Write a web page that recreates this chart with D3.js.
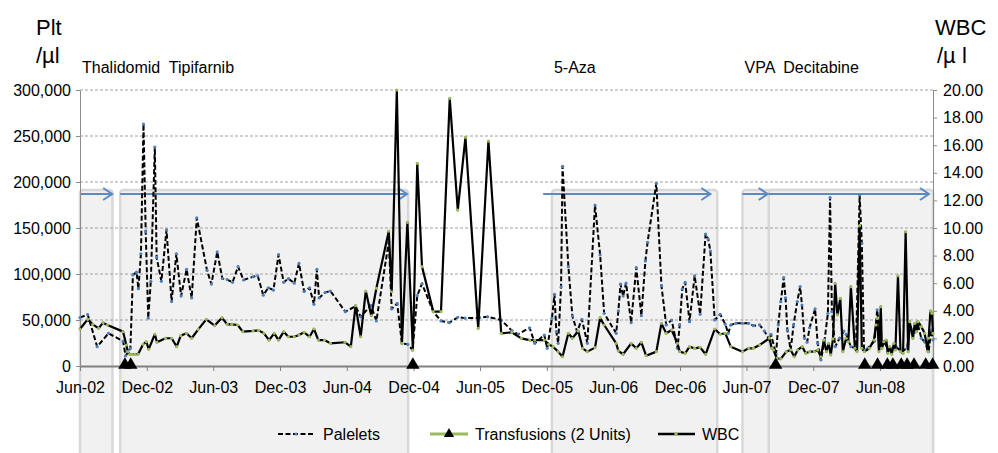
<!DOCTYPE html>
<html>
<head>
<meta charset="utf-8">
<script src="https://cdn.jsdelivr.net/npm/d3@7"></script>
<style>
  body { margin: 0; background: #fff; }
  svg { display: block; font-family: "Liberation Sans", Arial, Helvetica, sans-serif; }
</style>
</head>
<body>
<div id="chart"></div>
<script>
// Data
const platelets = [
  ["2002-06-01",52500],["2002-06-22",56000],["2002-07-18",21000],["2002-08-18",35500],
  ["2002-09-27",27000],["2002-10-04",11000],["2002-10-17",19000],["2002-10-24",99000],
  ["2002-11-03",102000],["2002-11-08",84000],["2002-11-15",122000],["2002-11-22",263000],
  ["2002-11-28",146000],["2002-12-05",52000],["2002-12-12",92000],["2002-12-23",238000],
  ["2002-12-28",118000],["2003-01-10",92000],["2003-01-24",148000],["2003-02-07",70000],
  ["2003-02-20",122000],["2003-03-05",76000],["2003-03-20",105000],["2003-04-03",74000],
  ["2003-04-17",161000],["2003-05-15",104000],["2003-05-27",89000],["2003-06-12",124000],
  ["2003-06-26",95000],["2003-07-09",94000],["2003-07-24",91000],["2003-08-08",108000],
  ["2003-08-23",93500],["2003-09-18",97000],["2003-10-01",98000],["2003-10-16",77000],
  ["2003-10-30",85000],["2003-11-13",82500],["2003-11-27",121000],["2003-12-11",91000],
  ["2003-12-24",95000],["2004-01-09",90000],["2004-01-22",111500],["2004-02-05",81000],
  ["2004-02-20",85000],["2004-03-03",67000],["2004-03-11",105000],["2004-03-17",74000],
  ["2004-04-03",80000],["2004-04-17",81500],["2004-05-28",59000],["2004-06-25",65000],
  ["2004-07-09",53500],["2004-08-06",66000],["2004-08-21",49000],["2004-09-24",135000],
  ["2004-10-02",62000],["2004-10-17",68000],["2004-10-30",24700],["2004-11-15",23600],
  ["2004-11-28",17400],["2004-12-11",76500],["2004-12-24",89500],["2005-01-24",59000],
  ["2005-02-14",49000],["2005-03-09",47000],["2005-04-01",53000],["2005-04-21",52000],
  ["2005-05-30",52500],["2005-06-22",53500],["2005-07-29",50000],["2005-08-27",38500],
  ["2005-09-13",34500],["2005-10-15",41500],["2005-10-29",24700],["2005-11-24",33700],
  ["2005-12-02",19200],["2005-12-15",51800],["2005-12-22",78000],["2005-12-27",37300],
  ["2006-01-01",24700],["2006-01-09",86000],["2006-01-13",217000],["2006-01-29",108000],
  ["2006-02-09",54300],["2006-02-22",37300],["2006-03-07",50800],["2006-03-22",24700],
  ["2006-04-12",175000],["2006-04-26",120700],["2006-05-07",57300],["2006-06-09",35500],
  ["2006-06-15",60000],["2006-06-21",89000],["2006-06-28",76000],["2006-07-06",90000],
  ["2006-07-20",47000],["2006-08-03",107000],["2006-08-17",54700],["2006-08-28",114000],
  ["2006-09-03",134500],["2006-09-27",198600],["2006-10-11",87300],["2006-10-24",44600],
  ["2006-11-08",50000],["2006-11-24",19200],["2006-11-30",44600],["2006-12-07",83700],
  ["2006-12-15",91000],["2006-12-27",48200],["2007-01-10",98100],["2007-01-25",56200],
  ["2007-02-09",143500],["2007-02-16",138000],["2007-02-22",125000],["2007-03-06",50000],
  ["2007-03-21",56200],["2007-04-04",45300],["2007-04-12",35500],["2007-04-19",44600],
  ["2007-05-03",46400],["2007-05-21",46400],["2007-06-07",46400],["2007-06-20",43800],
  ["2007-07-07",44600],["2007-07-20",38000],["2007-08-03",28300],["2007-08-07",34500],
  ["2007-08-21",12700],["2007-08-27",44600],["2007-09-03",69900],["2007-09-11",96000],
  ["2007-09-16",74200],["2007-09-21",39100],["2007-09-30",17400],["2007-10-08",44600],
  ["2007-10-18",69900],["2007-10-26",86200],["2007-10-31",66300],["2007-11-07",30100],
  ["2007-11-14",25800],["2007-11-21",41600],["2007-12-06",62000],["2007-12-13",24700],
  ["2007-12-22",6500],["2008-01-01",28300],["2008-01-10",57300],["2008-01-16",183000],
  ["2008-01-21",59000],["2008-01-30",21000],["2008-02-11",30100],["2008-02-23",38000],
  ["2008-02-29",34500],["2008-03-13",21000],["2008-03-27",19200],["2008-04-06",185900],
  ["2008-04-12",133400],["2008-04-18",17400],["2008-04-28",19200],["2008-05-17",27200],
  ["2008-05-24",60900],["2008-05-29",44600],["2008-06-04",19200],["2008-06-11",26400],
  ["2008-06-22",19200],["2008-07-03",19200],["2008-07-15",21000],["2008-07-29",15500],
  ["2008-08-14",19200],["2008-08-21",44600],["2008-08-28",39100],["2008-09-04",36600],
  ["2008-09-11",47500],["2008-09-22",30100],["2008-10-01",26400],["2008-10-12",15500],
  ["2008-10-19",39100],["2008-10-24",28300]
];

const wbc = [
  ["2002-06-01",2.68],["2002-06-22",3.38],["2002-07-06",3.02],["2002-07-22",2.73],
  ["2002-08-03",3.14],["2002-08-15",2.97],["2002-09-27",2.49],["2002-10-06",1.52],
  ["2002-10-10",1.04],["2002-10-15",0.85],["2002-10-21",0.85],["2002-10-29",0.85],
  ["2002-11-07",0.85],["2002-11-21",1.57],["2002-11-30",1.76],["2002-12-06",1.21],
  ["2002-12-23",2.30],["2002-12-29",1.72],["2003-01-21",2.01],["2003-02-07",2.01],
  ["2003-02-21",1.40],["2003-03-04",2.20],["2003-03-20",2.37],["2003-04-03",2.01],
  ["2003-04-21",2.65],["2003-05-13",3.38],["2003-06-05",2.93],["2003-06-25",3.50],
  ["2003-07-09",3.02],["2003-07-22",3.02],["2003-08-07",2.97],["2003-08-21",2.49],
  ["2003-09-18",2.54],["2003-10-03",2.58],["2003-10-18",2.37],["2003-11-01",1.88],
  ["2003-11-15",2.37],["2003-11-27",1.88],["2003-12-11",2.49],["2003-12-24",2.12],
  ["2004-01-09",2.12],["2004-01-22",2.25],["2004-02-05",2.44],["2004-02-20",2.12],
  ["2004-03-03",2.68],["2004-03-15",1.88],["2004-04-01",1.88],["2004-04-17",1.64],
  ["2004-05-27",1.72],["2004-06-12",1.40],["2004-06-25",4.37],["2004-07-09",2.12],
  ["2004-07-23",5.43],["2004-08-07",3.64],["2004-08-21",5.63],["2004-09-24",9.78],
  ["2004-10-02",5.38],["2004-10-16",20.00],["2004-10-30",1.64],["2004-11-14",10.41],
  ["2004-11-29",1.16],["2004-12-11",14.69],["2004-12-24",7.20],["2005-01-24",3.94],
  ["2005-02-14",3.94],["2005-03-10",19.40],["2005-04-01",11.30],["2005-04-22",16.57],
  ["2005-05-27",2.73],["2005-06-24",16.30],["2005-07-29",2.37],["2005-08-27",2.44],
  ["2005-09-22",2.00],["2005-10-15",1.88],["2005-10-29",1.88],["2005-11-24",1.88],
  ["2005-12-06",1.57],["2005-12-18",1.40],["2006-01-01",1.04],["2006-01-13",0.67],
  ["2006-01-29",2.37],["2006-02-09",2.01],["2006-02-25",2.54],["2006-03-09",1.28],
  ["2006-03-22",1.04],["2006-04-12",1.33],["2006-04-26",3.50],["2006-05-07",2.97],
  ["2006-06-09",1.64],["2006-06-15",1.09],["2006-06-28",0.85],["2006-07-20",1.64],
  ["2006-08-03",1.28],["2006-08-17",1.72],["2006-08-30",0.75],["2006-09-27",1.04],
  ["2006-10-11",3.09],["2006-10-24",2.37],["2006-11-08",2.61],["2006-11-24",1.64],
  ["2006-11-30",1.04],["2006-12-15",0.92],["2006-12-27",1.40],["2007-01-10",1.28],
  ["2007-01-25",1.35],["2007-02-09",0.85],["2007-03-06",2.68],["2007-03-21",2.30],
  ["2007-04-04",2.37],["2007-04-19",1.40],["2007-05-21",1.04],["2007-06-07",1.28],
  ["2007-06-20",1.28],["2007-07-07",1.52],["2007-08-03",2.01],["2007-08-09",1.28],
  ["2007-08-14",1.16],["2007-08-23",0.56],["2007-09-03",0.51],["2007-09-18",1.04],
  ["2007-09-30",1.16],["2007-10-10",0.67],["2007-10-19",1.16],["2007-11-01",1.40],
  ["2007-11-10",0.92],["2007-11-21",1.04],["2007-12-04",1.04],["2007-12-13",1.16],
  ["2007-12-22",0.67],["2007-12-30",1.88],["2008-01-06",1.04],["2008-01-12",1.64],
  ["2008-01-18",0.80],["2008-01-24",1.96],["2008-01-30",5.99],["2008-02-05",3.70],
  ["2008-02-13",4.90],["2008-02-20",1.04],["2008-02-29",2.01],["2008-03-06",1.76],
  ["2008-03-13",5.75],["2008-03-24",1.28],["2008-03-30",1.04],["2008-04-06",10.17],
  ["2008-04-12",1.28],["2008-04-19",1.04],["2008-05-03",1.28],["2008-05-15",1.88],
  ["2008-05-21",2.97],["2008-05-24",3.45],["2008-05-29",1.04],["2008-06-03",4.30],
  ["2008-06-06",1.28],["2008-06-11",1.76],["2008-06-18",1.88],["2008-06-22",0.92],
  ["2008-06-27",1.40],["2008-07-03",0.85],["2008-07-09",1.64],["2008-07-13",1.16],
  ["2008-07-20",6.54],["2008-07-27",1.04],["2008-08-03",0.92],["2008-08-10",9.73],
  ["2008-08-17",1.04],["2008-08-21",3.21],["2008-08-30",2.01],["2008-09-04",3.09],
  ["2008-09-09",2.49],["2008-09-13",3.21],["2008-09-22",2.85],["2008-10-01",2.37],
  ["2008-10-10",1.04],["2008-10-12",2.01],["2008-10-17",3.99],["2008-10-21",3.82],
  ["2008-10-24",2.37]
];

// transfusions (2 units) plotted at 0
const transfusionDates = ["2002-10-02","2002-10-18","2004-11-29","2007-08-20","2008-04-20",
  "2008-05-25","2008-06-21","2008-07-06","2008-07-29","2008-08-14","2008-09-02",
  "2008-10-04","2008-10-23"];

// therapy periods: shaded box and arrow
const boxStarts   = ["2002-06-01","2002-09-19","2005-12-15","2007-05-21","2007-08-01"];
const boxEnds     = ["2002-08-29","2004-11-16","2007-03-13","2008-10-24","2008-10-24"];
const arrowStarts = ["2002-06-01","2002-09-19","2005-11-21","2007-05-21","2007-08-01"];
const arrowEnds   = ["2002-08-28","2004-11-13","2007-02-22","2007-07-29","2008-10-13"];
const therapyLabels = ["Thalidomid  Tipifarnib", "5-Aza", "VPA  Decitabine"];
const therapyLabelDates = ["2002-06-01", "2005-12-15", "2007-05-21"];

const xTickLabels = ["Jun-02","Dec-02","Jun-03","Dec-03","Jun-04","Dec-04","Jun-05",
  "Dec-05","Jun-06","Dec-06","Jun-07","Dec-07","Jun-08"];
const pltTicks = [0, 50000, 100000, 150000, 200000, 250000, 300000];
const wbcTicks = [0, 2, 4, 6, 8, 10, 12, 14, 16, 18, 20];

// Layout
const width = 998, height = 453;
const plotLeft = 80, plotRight = 933, plotTop = 90, plotBottom = 366;
const boxTop = 190, arrowY = 194, labelY = 73;

const parse = d3.timeParse("%Y-%m-%d");
const parseTick = d3.timeParse("%b-%y");

const x = d3.scaleTime()
  .domain([parse("2002-06-01"), parse("2008-10-24")])
  .range([plotLeft, plotRight]);
const yPlt = d3.scaleLinear().domain([0, 300000]).range([plotBottom, plotTop]);
const yWbc = d3.scaleLinear().domain([0, 20]).range([plotBottom, plotTop]);

const svg = d3.select("#chart").append("svg")
  .attr("width", width)
  .attr("height", height);

// therapy boxes
svg.append("g").selectAll("rect")
  .data(boxStarts)
  .join("rect")
    .attr("x", (d, i) => x(parse(d)))
    .attr("y", boxTop)
    .attr("width", (d, i) => x(parse(boxEnds[i])) - x(parse(d)))
    .attr("height", height - boxTop + 10)
    .attr("rx", 3)
    .attr("fill", "#f1f1f1")
    .attr("stroke", "#d8d8d8")
    .attr("stroke-width", 2.5);

// gridlines
svg.append("g").selectAll("line")
  .data(pltTicks.slice(1))
  .join("line")
    .attr("x1", plotLeft).attr("x2", plotRight)
    .attr("y1", d => yPlt(d)).attr("y2", d => yPlt(d))
    .attr("stroke", "#a0a0a0")
    .attr("stroke-width", 1)
    .attr("stroke-dasharray", "3,2");

// arrows
const arrows = svg.append("g")
  .attr("stroke", "#5a8ac6")
  .attr("stroke-width", 2)
  .attr("fill", "none");
arrowStarts.forEach(function(s, i) {
  const x1 = x(parse(s)), x2 = x(parse(arrowEnds[i]));
  arrows.append("line").attr("x1", x1).attr("x2", x2).attr("y1", arrowY).attr("y2", arrowY);
  arrows.append("path").attr("d", `M${x2 - 9},${arrowY - 6}L${x2},${arrowY}L${x2 - 9},${arrowY + 6}`);
});

// therapy labels
svg.append("g").selectAll("text")
  .data(therapyLabels)
  .join("text")
    .attr("x", (d, i) => x(parse(therapyLabelDates[i])) + 2)
    .attr("y", labelY)
    .attr("font-size", 16)
    .style("white-space", "pre")
    .text(d => d);

// axes
const xAxis = svg.append("g")
  .attr("transform", `translate(0,${plotBottom})`)
  .call(d3.axisBottom(x)
    .tickValues(xTickLabels.map(parseTick))
    .tickFormat(d3.timeFormat("%b-%y"))
    .tickSize(5).tickSizeOuter(0).tickPadding(11));
xAxis.select(".domain").attr("stroke", "#808080").attr("stroke-width", 2);
xAxis.selectAll(".tick line").attr("stroke", "#808080");
xAxis.selectAll("text").attr("font-size", 16).attr("font-family", null).attr("fill", "#000");

const yAxisL = svg.append("g")
  .attr("transform", `translate(${plotLeft},0)`)
  .call(d3.axisLeft(yPlt)
    .tickValues(pltTicks)
    .tickFormat(d3.format(","))
    .tickSize(4).tickSizeOuter(0).tickPadding(5));
yAxisL.select(".domain").attr("stroke", "#8c8c8c");
yAxisL.selectAll(".tick line").attr("stroke", "#8c8c8c");
yAxisL.selectAll("text").attr("font-size", 16).attr("font-family", null).attr("fill", "#000");

const yAxisR = svg.append("g")
  .attr("transform", `translate(${plotRight},0)`)
  .call(d3.axisRight(yWbc)
    .tickValues(wbcTicks)
    .tickFormat(d3.format(".2f"))
    .tickSize(4).tickSizeOuter(0).tickPadding(6));
yAxisR.select(".domain").attr("stroke", "#8c8c8c");
yAxisR.selectAll(".tick line").attr("stroke", "#8c8c8c");
yAxisR.selectAll("text").attr("font-size", 16).attr("font-family", null).attr("fill", "#000");

// axis titles
svg.append("text").attr("x", 36).attr("y", 35).attr("font-size", 22).text("Plt");
svg.append("text").attr("x", 36).attr("y", 63).attr("font-size", 22).text("/µl");
svg.append("text").attr("x", 935).attr("y", 35).attr("font-size", 22).text("WBC");
svg.append("text").attr("x", 937).attr("y", 63).attr("font-size", 22)
  .style("white-space", "pre").text("/µ l");

// platelets series (left axis)
const pltData = platelets.map(d => ({ date: parse(d[0]), v: d[1] }));
svg.append("path")
  .datum(pltData)
  .attr("fill", "none")
  .attr("stroke", "#000")
  .attr("stroke-width", 2)
  .attr("stroke-dasharray", "5,2.5")
  .attr("stroke-linejoin", "round")
  .attr("d", d3.line().x(d => x(d.date)).y(d => yPlt(d.v)));
svg.append("g").selectAll("circle")
  .data(pltData)
  .join("circle")
    .attr("cx", d => x(d.date))
    .attr("cy", d => yPlt(d.v))
    .attr("r", 1.6)
    .attr("fill", "#4f81bd");

// WBC series (right axis)
const wbcData = wbc.map(d => ({ date: parse(d[0]), v: d[1] }));
svg.append("path")
  .datum(wbcData)
  .attr("fill", "none")
  .attr("stroke", "#000")
  .attr("stroke-width", 2.2)
  .attr("stroke-linejoin", "round")
  .attr("d", d3.line().x(d => x(d.date)).y(d => yWbc(d.v)));
svg.append("g").selectAll("circle")
  .data(wbcData)
  .join("circle")
    .attr("cx", d => x(d.date))
    .attr("cy", d => yWbc(d.v))
    .attr("r", 1.6)
    .attr("fill", "#9bbb59");

// transfusion markers
const tri = d3.symbol().type(d3.symbolTriangle).size(78);
svg.append("g").selectAll("path")
  .data(transfusionDates)
  .join("path")
    .attr("transform", d => `translate(${x(parse(d))},${yPlt(0) - 1})`)
    .attr("d", tri)
    .attr("fill", "#000");

// legend
const legend = svg.append("g").attr("font-size", 16);
const ly = 434;
legend.append("line").attr("x1", 278).attr("x2", 315).attr("y1", ly).attr("y2", ly)
  .attr("stroke", "#000").attr("stroke-width", 2).attr("stroke-dasharray", "5,2.5");
legend.append("circle").attr("cx", 296).attr("cy", ly).attr("r", 1.6).attr("fill", "#4f81bd");
legend.append("text").attr("x", 323).attr("y", ly + 6).text("Palelets");

legend.append("line").attr("x1", 430).attr("x2", 468).attr("y1", ly).attr("y2", ly)
  .attr("stroke", "#9bbb59").attr("stroke-width", 3);
legend.append("path").attr("transform", `translate(449,${ly})`)
  .attr("d", d3.symbol().type(d3.symbolTriangle).size(45)).attr("fill", "#000");
legend.append("text").attr("x", 475).attr("y", ly + 6).text("Transfusions (2 Units)");

legend.append("line").attr("x1", 658).attr("x2", 695).attr("y1", ly).attr("y2", ly)
  .attr("stroke", "#000").attr("stroke-width", 2.5);
legend.append("circle").attr("cx", 676).attr("cy", ly).attr("r", 1.8).attr("fill", "#9bbb59");
legend.append("text").attr("x", 702).attr("y", ly + 6).text("WBC");
</script>
</body>
</html>
